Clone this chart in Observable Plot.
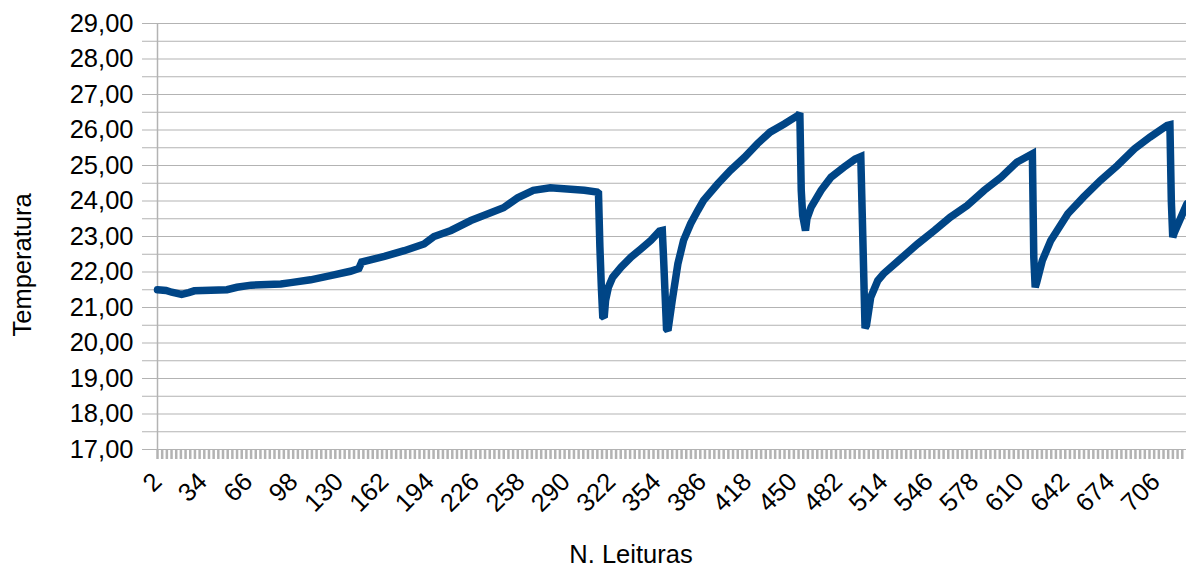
<!DOCTYPE html>
<html>
<head>
<meta charset="utf-8">
<script src="https://cdn.jsdelivr.net/npm/d3@7"></script>
<script src="https://cdn.jsdelivr.net/npm/@observablehq/plot@0.6"></script>
<style>
  html, body { margin: 0; padding: 0; background: #fff; }
  #chart svg { display: block; }
</style>
</head>
<body>
<div id="chart"></div>
<script>
// Reading number (N. Leituras)
const readings = [
  2, 8, 12, 19, 24, 28, 51, 58, 68, 89, 96, 110, 124, 138, 144, 146, 162, 176, 190, 197,
  209, 223, 232, 246, 256, 267, 279, 291, 303, 312,
  313, 314, 315, 316, 317, 318, 320, 323, 329, 336, 343, 350, 356, 358,
  359, 361, 362, 365, 369, 373, 378, 383, 387, 397, 406, 416, 425, 434, 444, 454, 455,
  456, 457, 459, 460, 463, 470, 477, 486, 494, 498,
  499, 501, 502, 505, 510, 514, 526, 538, 550, 561, 573, 585, 597, 608, 619,
  620, 621, 622, 626, 632, 644, 655, 667, 679, 691, 702, 714, 716,
  717, 718, 719, 728
];
// Temperature readings
const temps = [
  21.50, 21.48, 21.43, 21.37, 21.42, 21.47, 21.50, 21.57, 21.63, 21.66, 21.70, 21.78, 21.90, 22.02, 22.10, 22.28, 22.44, 22.60, 22.79, 23.00,
  23.17, 23.45, 23.59, 23.81, 24.09, 24.30, 24.37, 24.34, 24.30, 24.25,
  24.22, 22.70, 21.60, 20.75, 20.72, 21.20, 21.57, 21.85, 22.14, 22.42, 22.65, 22.89, 23.15, 23.17,
  22.30, 20.40, 20.35, 21.20, 22.23, 22.89, 23.36, 23.73, 24.01, 24.48, 24.86, 25.23, 25.61, 25.94, 26.17, 26.42, 26.48,
  24.30, 23.60, 23.17, 23.50, 23.83, 24.30, 24.67, 24.95, 25.18, 25.25,
  23.65, 20.42, 20.50, 21.29, 21.76, 21.95, 22.37, 22.79, 23.17, 23.54, 23.87, 24.30, 24.67, 25.09, 25.33,
  22.42, 21.57, 21.70, 22.32, 22.89, 23.64, 24.11, 24.58, 25.00, 25.47, 25.80, 26.13, 26.15,
  24.00, 22.98, 23.10, 23.92
];
// Axis tick labels
const xLabels = [2, 34, 66, 98, 130, 162, 194, 226, 258, 290, 322, 354, 386, 418, 450, 482, 514, 546, 578, 610, 642, 674, 706];
const yLabels = [17, 18, 19, 20, 21, 22, 23, 24, 25, 26, 27, 28, 29];

const data = readings.map((r, i) => ({r, t: temps[i]}));
const yGrid = d3.range(17, 29.001, 0.5);
const xMinor = d3.range(2, 728, 3.3);
const fmt = d => yLabels.includes(d) ? d.toFixed(2).replace(".", ",") : "";
const FS = 25.5;

const chart = Plot.plot({
  width: 1186,
  height: 575,
  marginTop: 23,
  marginBottom: 126,
  marginLeft: 157,
  marginRight: 0,
  style: {fontFamily: "'Liberation Sans', Arial, sans-serif", fontSize: FS + "px", color: "#000", background: "#fff"},
  x: {domain: [2, 727.7], axis: null},
  y: {domain: [17, 29], axis: null},
  marks: [
    Plot.gridY(yGrid, {stroke: "#b3b3b3", strokeOpacity: 1, strokeWidth: 1}),
    Plot.axisY({ticks: yGrid, tickSize: 15, tickPadding: 9, tickFormat: fmt, stroke: "#b3b3b3", strokeWidth: 1, fontSize: FS, label: null}),
    Plot.axisX({ticks: xMinor, tickSize: 10, tickFormat: () => "", stroke: "#b3b3b3", strokeWidth: 2.5, label: null}),
    Plot.ruleX([2], {y1: 17, y2: 29, stroke: "#b3b3b3", strokeWidth: 1.5}),
    Plot.text(xLabels, {x: d => d, text: d => String(d), frameAnchor: "bottom", dy: 28, rotate: -45, textAnchor: "end", lineAnchor: "middle", fontSize: FS, fill: "#000"}),
    Plot.line(data, {x: "r", y: "t", stroke: "#004586", strokeWidth: 7.5, strokeLinejoin: "miter", strokeMiterlimit: 2}),
    Plot.text(["N. Leituras"], {frameAnchor: "bottom", dx: -41, dy: 113, fontSize: FS, fill: "#000"}),
    Plot.text(["Temperatura"], {frameAnchor: "left", dx: -135, dy: 100, rotate: -90, fontSize: FS, fill: "#000"})
  ]
});
document.getElementById("chart").appendChild(chart);
</script>
</body>
</html>
